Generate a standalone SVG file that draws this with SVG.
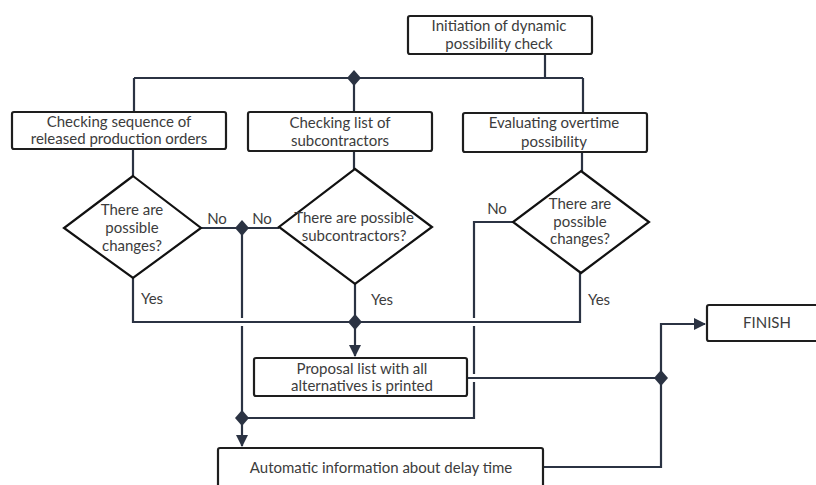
<svg xmlns="http://www.w3.org/2000/svg" width="816" height="485" viewBox="0 0 816 485">
<defs>
<style>
.box{fill:#fff;stroke:#1e1e1e;stroke-width:2.2}
.dia{fill:#fff;stroke:#111;stroke-width:2.2}
.c{fill:none;stroke:#2b3343;stroke-width:2.2}
.j{fill:#2b3343}
text{font-family:Lato,"Noto Sans","Liberation Sans",sans-serif;font-size:15px;fill:#3c3c3c;text-anchor:middle}
</style>
<marker id="arr" viewBox="0 0 12 12" refX="11" refY="6" markerWidth="12" markerHeight="12" markerUnits="userSpaceOnUse" orient="auto">
<path d="M0,0 L12,6 L0,12 Z" fill="#2b3343"/>
</marker>
</defs>
<rect width="816" height="485" fill="#fff"/>
<g id="connectors">
<path class="c" d="M545,54 V78 M134,78 H583 M134,78 V112 M354,78 V112 M583,78 V113"/>
<path class="c" d="M133,149 V176 M354,151 V169 M582,152 V171"/>
<path class="c" d="M201,228 H279"/>
<path class="c" d="M242,228 V318 M242,326 V418"/>
<path class="c" d="M242,418 V446" marker-end="url(#arr)"/>
<path class="c" d="M513,222 H474 V318 M474,326 V374 M474,382 V418 H242"/>
<path class="c" d="M133,278 V322 H580 V273 M355,284 V322"/>
<path class="c" d="M355,322 V356" marker-end="url(#arr)"/>
<path class="c" d="M467,378 H661 V467 H543"/>
<path class="c" d="M661,378 V324 H705" marker-end="url(#arr)"/>
<path class="j" d="M354,70 L361,78 L354,86 L347,78 Z"/>
<path class="j" d="M242,220 L249,228 L242,236 L235,228 Z"/>
<path class="j" d="M355,314 L362,322 L355,330 L348,322 Z"/>
<path class="j" d="M242,410 L249,418 L242,426 L235,418 Z"/>
<path class="j" d="M661,370 L668,378 L661,386 L654,378 Z"/>
<text x="217" y="224">No</text>
<text x="262" y="224">No</text>
<text x="497" y="214">No</text>
<text x="152" y="304">Yes</text>
<text x="382" y="305">Yes</text>
<text x="599" y="305">Yes</text>
</g>
<g id="initiation">
<rect class="box" x="408" y="16" width="184" height="38" rx="2"/>
<text x="499" y="31">Initiation of dynamic</text>
<text x="499" y="49">possibility check</text>
</g>
<g id="checkSequence">
<rect class="box" x="12" y="112" width="214" height="37" rx="2"/>
<text x="119" y="127">Checking sequence of</text>
<text x="119" y="144">released production orders</text>
</g>
<g id="checkSubcontractors">
<rect class="box" x="248" y="112" width="184" height="39" rx="2"/>
<text x="340" y="128">Checking list of</text>
<text x="340" y="146">subcontractors</text>
</g>
<g id="evaluateOvertime">
<rect class="box" x="463" y="113" width="184" height="39" rx="2"/>
<text x="554" y="128">Evaluating overtime</text>
<text x="554" y="147">possibility</text>
</g>
<g id="decision1">
<path class="dia" d="M133,176 L201,228 L133,278 L64,228 Z"/>
<text x="132" y="215">There are</text>
<text x="132" y="233">possible</text>
<text x="132" y="251">changes?</text>
</g>
<g id="decision2">
<path class="dia" d="M355,169 L432,227 L355,284 L279,227 Z"/>
<text x="354" y="223">There are possible</text>
<text x="354" y="241">subcontractors?</text>
</g>
<g id="decision3">
<path class="dia" d="M581,171 L649,222 L581,273 L513,222 Z"/>
<text x="580" y="209">There are</text>
<text x="580" y="227">possible</text>
<text x="580" y="244">changes?</text>
</g>
<g id="proposal">
<rect class="box" x="254" y="358" width="213" height="38" rx="2"/>
<text x="362" y="374">Proposal list with all</text>
<text x="362" y="391">alternatives is printed</text>
</g>
<g id="finish">
<rect class="box" x="707" y="305" width="120" height="36" rx="2"/>
<text x="767" y="328">FINISH</text>
</g>
<g id="automatic">
<rect class="box" x="218" y="448" width="325" height="50" rx="2"/>
<text x="381" y="473">Automatic information about delay time</text>
</g>
</svg>
